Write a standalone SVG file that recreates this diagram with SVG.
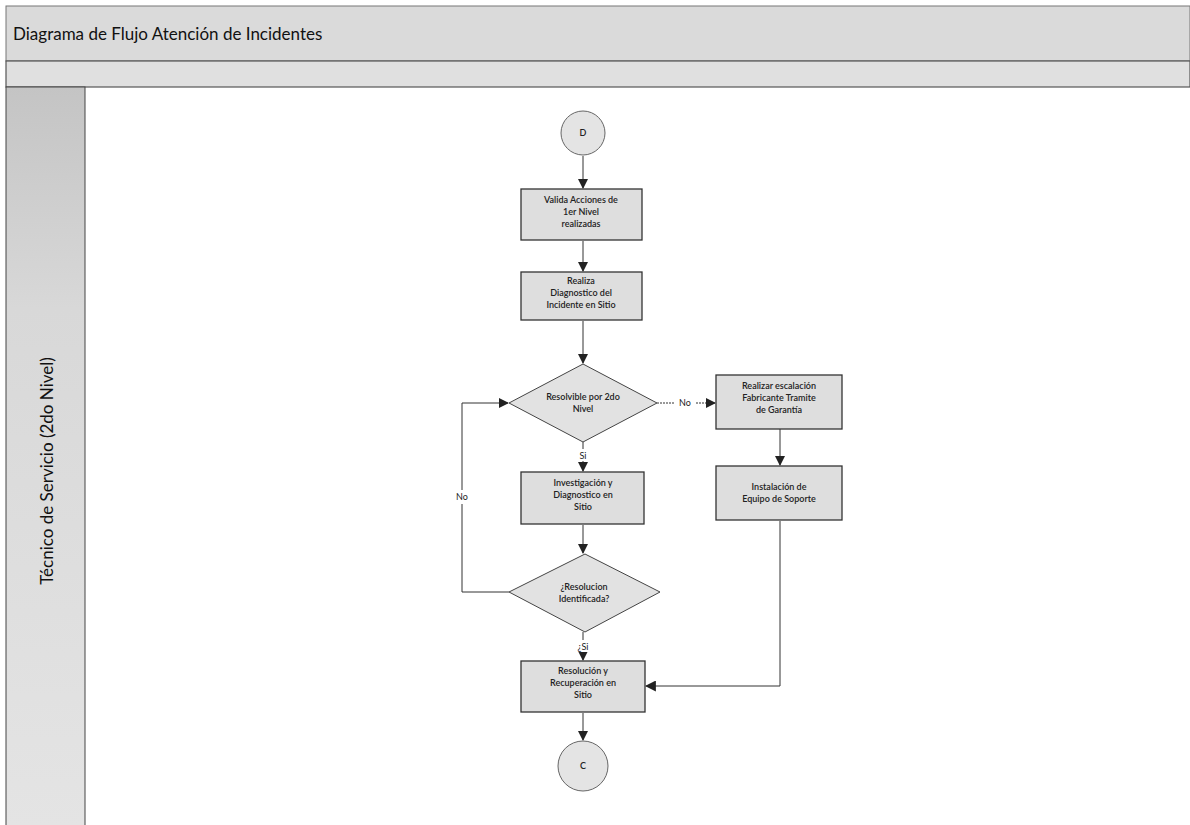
<svg xmlns="http://www.w3.org/2000/svg" width="1190" height="825" viewBox="0 0 1190 825">
<defs>
<linearGradient id="laneGrad" x1="0" y1="0" x2="0" y2="1">
<stop offset="0" stop-color="#c4c4c4"/>
<stop offset="0.3" stop-color="#d8d8d8"/>
<stop offset="1" stop-color="#e4e4e4"/>
</linearGradient>
<marker id="arr" viewBox="0 0 10 10" refX="9" refY="5" markerWidth="10" markerHeight="10" markerUnits="userSpaceOnUse" orient="auto">
<path d="M0,0 L10,5 L0,10 z" fill="#222"/>
</marker>
<marker id="arrL" viewBox="0 0 10 10" refX="9" refY="5" markerWidth="11" markerHeight="11" markerUnits="userSpaceOnUse" orient="auto">
<path d="M0,0 L10,5 L0,10 z" fill="#222"/>
</marker>
</defs>
<style>
.box{fill:#dedede;stroke:#333;stroke-width:1.3}
.dia{fill:#e2e2e2;stroke:#444;stroke-width:1}
.circ{fill:#e4e4e4;stroke:#666;stroke-width:1}
.t{font-family:Lato,"Open Sans","Liberation Sans",sans-serif;font-size:9px;font-weight:600;fill:#222;text-anchor:middle}
.lbl{font-family:Lato,"Open Sans","Liberation Sans",sans-serif;font-size:9px;fill:#222;text-anchor:middle}
.c{fill:none;stroke:#333;stroke-width:1}
</style>
<rect width="1190" height="825" fill="#ffffff"/>
<g id="pool">
<rect x="6" y="6" width="1184" height="55" fill="#dadada" stroke="#777" stroke-width="1"/>
<rect x="6" y="61" width="1184" height="26" fill="#e0e0e0" stroke="#555" stroke-width="1.2"/>
<rect x="6" y="87" width="79" height="740" fill="url(#laneGrad)" stroke="#444" stroke-width="1"/>
<text x="13" y="40" font-family="Lato,'Open Sans','Liberation Sans',sans-serif" font-size="17" fill="#111">Diagrama de Flujo Atención de Incidentes</text>
<text transform="translate(53,471) rotate(-90)" text-anchor="middle" font-family="Lato,'Open Sans','Liberation Sans',sans-serif" font-size="17" fill="#111">Técnico de Servicio (2do Nivel)</text>
</g>
<g id="connectors">
<line class="c" x1="583" y1="156" x2="583" y2="188" marker-end="url(#arr)"/>
<line class="c" x1="583" y1="241" x2="583" y2="271" marker-end="url(#arr)"/>
<line class="c" x1="583" y1="321" x2="583" y2="363" marker-end="url(#arr)"/>
<line class="c" x1="583" y1="442" x2="583" y2="471" marker-end="url(#arr)"/>
<line class="c" x1="583" y1="525" x2="583" y2="553" marker-end="url(#arr)"/>
<line class="c" x1="583" y1="632" x2="583" y2="660" marker-end="url(#arr)"/>
<line class="c" x1="583" y1="713" x2="583" y2="740" marker-end="url(#arr)"/>
<line class="c" x1="657" y1="403" x2="715" y2="403" stroke-dasharray="2,1" marker-end="url(#arr)"/>
<line class="c" x1="780" y1="429" x2="780" y2="465" marker-end="url(#arr)"/>
<polyline class="c" points="780,521 780,686 646,686" marker-end="url(#arrL)"/>
<polyline class="c" points="509,592 462,592 462,403 508,403" marker-end="url(#arr)"/>
<rect x="674" y="397" width="22" height="12" fill="#fff"/>
<text class="lbl" x="685" y="406">No</text>
<rect x="570" y="449" width="26" height="12" fill="#fff"/>
<text class="lbl" x="583" y="459">Si</text>
<rect x="570" y="640" width="26" height="12" fill="#fff"/>
<text class="lbl" x="583" y="650">¿Si</text>
<rect x="450" y="490" width="24" height="14" fill="#fff"/>
<text class="lbl" x="462" y="500">No</text>
</g>
<g id="start">
<circle class="circ" cx="583" cy="133" r="22"/>
<text class="t" x="583" y="136" font-weight="bold" font-size="8">D</text>
</g>
<g id="valida">
<rect class="box" x="521" y="189" width="121" height="51"/>
<text class="t" x="581" y="203">Valida Acciones de</text>
<text class="t" x="581" y="215">1er Nivel</text>
<text class="t" x="581" y="227">realizadas</text>
</g>
<g id="diagnostico">
<rect class="box" x="521" y="272" width="121" height="48"/>
<text class="t" x="581" y="284">Realiza</text>
<text class="t" x="581" y="296">Diagnostico del</text>
<text class="t" x="581" y="308">Incidente en Sitio</text>
</g>
<g id="resolvible">
<polygon class="dia" points="583,364 657,403 583,442 509,403"/>
<text class="t" x="583" y="400">Resolvible por 2do</text>
<text class="t" x="583" y="412">Nivel</text>
</g>
<g id="investigacion">
<rect class="box" x="521" y="472" width="123" height="52"/>
<text class="t" x="583" y="486">Investigación y</text>
<text class="t" x="583" y="498">Diagnostico en</text>
<text class="t" x="583" y="510">Sitio</text>
</g>
<g id="identificada">
<polygon class="dia" points="585,554 660,592 585,632 509,592"/>
<text class="t" x="584" y="590">¿Resolucion</text>
<text class="t" x="584" y="602">Identificada?</text>
</g>
<g id="resolucion">
<rect class="box" x="521" y="661" width="124" height="51"/>
<text class="t" x="583" y="674">Resolución y</text>
<text class="t" x="583" y="686">Recuperación en</text>
<text class="t" x="583" y="698">Sitio</text>
</g>
<g id="end">
<circle class="circ" cx="583" cy="766" r="25"/>
<text class="t" x="583" y="769" font-weight="bold" font-size="8">C</text>
</g>
<g id="escalacion">
<rect class="box" x="716" y="375" width="126" height="54"/>
<text class="t" x="779" y="389">Realizar escalación</text>
<text class="t" x="779" y="401">Fabricante Tramite</text>
<text class="t" x="779" y="413">de Garantía</text>
</g>
<g id="instalacion">
<rect class="box" x="716" y="466" width="126" height="54"/>
<text class="t" x="779" y="490">Instalación de</text>
<text class="t" x="779" y="502">Equipo de Soporte</text>
</g>
</svg>
